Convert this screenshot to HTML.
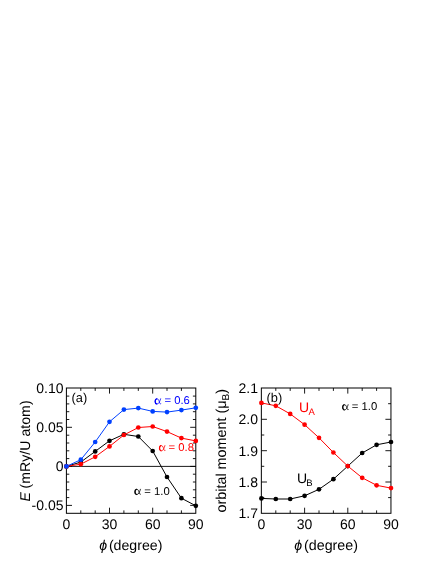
<!DOCTYPE html>
<html><head><meta charset="utf-8"><title>figure</title>
<style>
html,body{margin:0;padding:0;background:#fff;}
body{width:436px;height:564px;position:relative;overflow:hidden;font-family:"Liberation Sans",sans-serif;}
</style></head><body>
<svg width="436" height="564" viewBox="0 0 436 564" style="position:absolute;left:0;top:0;will-change:transform" font-family="Liberation Sans, sans-serif" text-rendering="geometricPrecision">
<line x1="66.4" x2="195.8" y1="466.4" y2="466.4" stroke="#000" stroke-width="0.9"/>
<rect x="66.4" y="388.0" width="129.4" height="125.3" fill="none" stroke="#000" stroke-width="1"/>
<path d="M80.8 513.3v-2.9M80.8 388.0v2.9" stroke="#000" stroke-width="0.9"/>
<path d="M95.2 513.3v-2.9M95.2 388.0v2.9" stroke="#000" stroke-width="0.9"/>
<path d="M109.5 513.3v-5.6M109.5 388.0v5.6" stroke="#000" stroke-width="0.9"/>
<path d="M123.9 513.3v-2.9M123.9 388.0v2.9" stroke="#000" stroke-width="0.9"/>
<path d="M138.3 513.3v-2.9M138.3 388.0v2.9" stroke="#000" stroke-width="0.9"/>
<path d="M152.7 513.3v-5.6M152.7 388.0v5.6" stroke="#000" stroke-width="0.9"/>
<path d="M167.0 513.3v-2.9M167.0 388.0v2.9" stroke="#000" stroke-width="0.9"/>
<path d="M181.4 513.3v-2.9M181.4 388.0v2.9" stroke="#000" stroke-width="0.9"/>
<path d="M66.4 505.4h5.6M195.8 505.4h-5.6" stroke="#000" stroke-width="0.9"/>
<path d="M66.4 497.6h2.9M195.8 497.6h-2.9" stroke="#000" stroke-width="0.9"/>
<path d="M66.4 489.8h2.9M195.8 489.8h-2.9" stroke="#000" stroke-width="0.9"/>
<path d="M66.4 482.0h2.9M195.8 482.0h-2.9" stroke="#000" stroke-width="0.9"/>
<path d="M66.4 474.2h2.9M195.8 474.2h-2.9" stroke="#000" stroke-width="0.9"/>
<path d="M66.4 466.4h5.6M195.8 466.4h-5.6" stroke="#000" stroke-width="0.9"/>
<path d="M66.4 458.6h2.9M195.8 458.6h-2.9" stroke="#000" stroke-width="0.9"/>
<path d="M66.4 450.8h2.9M195.8 450.8h-2.9" stroke="#000" stroke-width="0.9"/>
<path d="M66.4 443.0h2.9M195.8 443.0h-2.9" stroke="#000" stroke-width="0.9"/>
<path d="M66.4 435.2h2.9M195.8 435.2h-2.9" stroke="#000" stroke-width="0.9"/>
<path d="M66.4 427.3h5.6M195.8 427.3h-5.6" stroke="#000" stroke-width="0.9"/>
<path d="M66.4 419.5h2.9M195.8 419.5h-2.9" stroke="#000" stroke-width="0.9"/>
<path d="M66.4 411.7h2.9M195.8 411.7h-2.9" stroke="#000" stroke-width="0.9"/>
<path d="M66.4 403.9h2.9M195.8 403.9h-2.9" stroke="#000" stroke-width="0.9"/>
<path d="M66.4 396.1h2.9M195.8 396.1h-2.9" stroke="#000" stroke-width="0.9"/>
<polyline points="66.4,466.4 80.8,462.1 95.2,451.4 109.5,440.8 123.9,434.3 138.3,436.5 152.7,451.0 167.0,477.0 181.4,498.2 195.8,505.8" fill="none" stroke="#000" stroke-width="1"/>
<circle cx="66.4" cy="466.4" r="2.35" fill="#000"/>
<circle cx="80.8" cy="462.1" r="2.35" fill="#000"/>
<circle cx="95.2" cy="451.4" r="2.35" fill="#000"/>
<circle cx="109.5" cy="440.8" r="2.35" fill="#000"/>
<circle cx="123.9" cy="434.3" r="2.35" fill="#000"/>
<circle cx="138.3" cy="436.5" r="2.35" fill="#000"/>
<circle cx="152.7" cy="451.0" r="2.35" fill="#000"/>
<circle cx="167.0" cy="477.0" r="2.35" fill="#000"/>
<circle cx="181.4" cy="498.2" r="2.35" fill="#000"/>
<circle cx="195.8" cy="505.8" r="2.35" fill="#000"/>
<polyline points="66.4,466.4 80.8,464.2 95.2,456.8 109.5,446.4 123.9,435.0 138.3,427.5 152.7,426.5 167.0,431.6 181.4,438.1 195.8,440.9" fill="none" stroke="#f00" stroke-width="1"/>
<circle cx="66.4" cy="466.4" r="2.35" fill="#f00"/>
<circle cx="80.8" cy="464.2" r="2.35" fill="#f00"/>
<circle cx="95.2" cy="456.8" r="2.35" fill="#f00"/>
<circle cx="109.5" cy="446.4" r="2.35" fill="#f00"/>
<circle cx="123.9" cy="435.0" r="2.35" fill="#f00"/>
<circle cx="138.3" cy="427.5" r="2.35" fill="#f00"/>
<circle cx="152.7" cy="426.5" r="2.35" fill="#f00"/>
<circle cx="167.0" cy="431.6" r="2.35" fill="#f00"/>
<circle cx="181.4" cy="438.1" r="2.35" fill="#f00"/>
<circle cx="195.8" cy="440.9" r="2.35" fill="#f00"/>
<polyline points="66.4,466.4 80.8,459.7 95.2,442.0 109.5,421.8 123.9,409.6 138.3,408.1 152.7,411.4 167.0,412.1 181.4,410.1 195.8,407.8" fill="none" stroke="#0040ff" stroke-width="1"/>
<circle cx="66.4" cy="466.4" r="2.35" fill="#0040ff"/>
<circle cx="80.8" cy="459.7" r="2.35" fill="#0040ff"/>
<circle cx="95.2" cy="442.0" r="2.35" fill="#0040ff"/>
<circle cx="109.5" cy="421.8" r="2.35" fill="#0040ff"/>
<circle cx="123.9" cy="409.6" r="2.35" fill="#0040ff"/>
<circle cx="138.3" cy="408.1" r="2.35" fill="#0040ff"/>
<circle cx="152.7" cy="411.4" r="2.35" fill="#0040ff"/>
<circle cx="167.0" cy="412.1" r="2.35" fill="#0040ff"/>
<circle cx="181.4" cy="410.1" r="2.35" fill="#0040ff"/>
<circle cx="195.8" cy="407.8" r="2.35" fill="#0040ff"/>
<text x="63.5" y="393.0" font-size="14" text-anchor="end">0.10</text>
<text x="63.5" y="432.0" font-size="14" text-anchor="end">0.05</text>
<text x="63.5" y="471.1" font-size="14" text-anchor="end">0</text>
<text x="63.5" y="510.1" font-size="14" text-anchor="end">-0.05</text>
<text x="66.4" y="529.4" font-size="14" text-anchor="middle">0</text>
<text x="109.5" y="529.4" font-size="14" text-anchor="middle">30</text>
<text x="152.7" y="529.4" font-size="14" text-anchor="middle">60</text>
<text x="195.8" y="529.4" font-size="14" text-anchor="middle">90</text>
<text x="99.2" y="549.5" font-size="14.15" font-style="italic">ϕ</text><text x="108.9" y="549.5" font-size="14.15">(degree)</text>
<text transform="translate(30.4,501.6) rotate(-90)" font-size="14.15" font-style="italic">E</text>
<text transform="translate(30.4,488.4) rotate(-90)" font-size="14.15">(mRy/U atom)</text>
<text x="71.5" y="402" font-size="12.8">(a)</text>
<g transform="translate(154.40,398.50) scale(0.93)" fill="none" stroke="#0000ff" stroke-linecap="round"><path d="M6.7 0.3C6.0 3.0 4.7 6.0 2.8 6.0C1.4 6.0 0.8 4.7 0.8 3.1C0.8 1.5 1.5 0.3 2.9 0.3C4.5 0.3 5.2 3.2 5.7 4.9C5.9 5.6 6.3 5.9 6.9 5.6" stroke-width="0.85"/><path d="M2.3 5.8C1.3 5.5 0.9 4.4 0.9 3.1C0.9 1.9 1.3 0.8 2.3 0.45" stroke-width="1.4"/></g>
<text x="161.30" y="404.3" font-size="11.3" fill="#0000ff" xml:space="preserve"> = 0.6</text>
<g transform="translate(158.70,445.30) scale(0.93)" fill="none" stroke="#f00" stroke-linecap="round"><path d="M6.7 0.3C6.0 3.0 4.7 6.0 2.8 6.0C1.4 6.0 0.8 4.7 0.8 3.1C0.8 1.5 1.5 0.3 2.9 0.3C4.5 0.3 5.2 3.2 5.7 4.9C5.9 5.6 6.3 5.9 6.9 5.6" stroke-width="0.85"/><path d="M2.3 5.8C1.3 5.5 0.9 4.4 0.9 3.1C0.9 1.9 1.3 0.8 2.3 0.45" stroke-width="1.4"/></g>
<text x="165.40" y="451.1" font-size="11.3" fill="#f00" xml:space="preserve"> = 0.8</text>
<g transform="translate(134.20,489.00) scale(0.93)" fill="none" stroke="#000" stroke-linecap="round"><path d="M6.7 0.3C6.0 3.0 4.7 6.0 2.8 6.0C1.4 6.0 0.8 4.7 0.8 3.1C0.8 1.5 1.5 0.3 2.9 0.3C4.5 0.3 5.2 3.2 5.7 4.9C5.9 5.6 6.3 5.9 6.9 5.6" stroke-width="0.85"/><path d="M2.3 5.8C1.3 5.5 0.9 4.4 0.9 3.1C0.9 1.9 1.3 0.8 2.3 0.45" stroke-width="1.4"/></g>
<text x="141.20" y="494.8" font-size="11.3" fill="#000" xml:space="preserve"> = 1.0</text>
<rect x="261.35" y="388.0" width="129.6" height="125.3" fill="none" stroke="#000" stroke-width="1"/>
<path d="M275.8 513.3v-2.9M275.8 388.0v2.9" stroke="#000" stroke-width="0.9"/>
<path d="M290.2 513.3v-2.9M290.2 388.0v2.9" stroke="#000" stroke-width="0.9"/>
<path d="M304.6 513.3v-5.6M304.6 388.0v5.6" stroke="#000" stroke-width="0.9"/>
<path d="M319.0 513.3v-2.9M319.0 388.0v2.9" stroke="#000" stroke-width="0.9"/>
<path d="M333.4 513.3v-2.9M333.4 388.0v2.9" stroke="#000" stroke-width="0.9"/>
<path d="M347.8 513.3v-5.6M347.8 388.0v5.6" stroke="#000" stroke-width="0.9"/>
<path d="M362.2 513.3v-2.9M362.2 388.0v2.9" stroke="#000" stroke-width="0.9"/>
<path d="M376.6 513.3v-2.9M376.6 388.0v2.9" stroke="#000" stroke-width="0.9"/>
<path d="M261.35 497.6h2.9M391.0 497.6h-2.9" stroke="#000" stroke-width="0.9"/>
<path d="M261.35 482.0h5.6M391.0 482.0h-5.6" stroke="#000" stroke-width="0.9"/>
<path d="M261.35 466.3h2.9M391.0 466.3h-2.9" stroke="#000" stroke-width="0.9"/>
<path d="M261.35 450.7h5.6M391.0 450.7h-5.6" stroke="#000" stroke-width="0.9"/>
<path d="M261.35 435.0h2.9M391.0 435.0h-2.9" stroke="#000" stroke-width="0.9"/>
<path d="M261.35 419.3h5.6M391.0 419.3h-5.6" stroke="#000" stroke-width="0.9"/>
<path d="M261.35 403.7h2.9M391.0 403.7h-2.9" stroke="#000" stroke-width="0.9"/>
<polyline points="261.4,498.4 275.8,499.0 290.2,499.0 304.6,495.8 319.0,489.3 333.4,479.2 347.8,466.1 362.2,453.0 376.6,444.8 391.0,442.0" fill="none" stroke="#000" stroke-width="1"/>
<circle cx="261.4" cy="498.4" r="2.35" fill="#000"/>
<circle cx="275.8" cy="499.0" r="2.35" fill="#000"/>
<circle cx="290.2" cy="499.0" r="2.35" fill="#000"/>
<circle cx="304.6" cy="495.8" r="2.35" fill="#000"/>
<circle cx="319.0" cy="489.3" r="2.35" fill="#000"/>
<circle cx="333.4" cy="479.2" r="2.35" fill="#000"/>
<circle cx="347.8" cy="466.1" r="2.35" fill="#000"/>
<circle cx="362.2" cy="453.0" r="2.35" fill="#000"/>
<circle cx="376.6" cy="444.8" r="2.35" fill="#000"/>
<circle cx="391.0" cy="442.0" r="2.35" fill="#000"/>
<polyline points="261.4,402.9 275.8,405.8 290.2,413.9 304.6,424.7 319.0,437.8 333.4,452.5 347.8,466.1 362.2,477.8 376.6,485.3 391.0,488.1" fill="none" stroke="#f00" stroke-width="1"/>
<circle cx="261.4" cy="402.9" r="2.35" fill="#f00"/>
<circle cx="275.8" cy="405.8" r="2.35" fill="#f00"/>
<circle cx="290.2" cy="413.9" r="2.35" fill="#f00"/>
<circle cx="304.6" cy="424.7" r="2.35" fill="#f00"/>
<circle cx="319.0" cy="437.8" r="2.35" fill="#f00"/>
<circle cx="333.4" cy="452.5" r="2.35" fill="#f00"/>
<circle cx="347.8" cy="466.1" r="2.35" fill="#f00"/>
<circle cx="362.2" cy="477.8" r="2.35" fill="#f00"/>
<circle cx="376.6" cy="485.3" r="2.35" fill="#f00"/>
<circle cx="391.0" cy="488.1" r="2.35" fill="#f00"/>
<text x="258" y="392.8" font-size="14" text-anchor="end">2.1</text>
<text x="258" y="424.1" font-size="14" text-anchor="end">2.0</text>
<text x="258" y="455.5" font-size="14" text-anchor="end">1.9</text>
<text x="258" y="486.8" font-size="14" text-anchor="end">1.8</text>
<text x="258" y="518.1" font-size="14" text-anchor="end">1.7</text>
<text x="261.4" y="529.4" font-size="14" text-anchor="middle">0</text>
<text x="304.6" y="529.4" font-size="14" text-anchor="middle">30</text>
<text x="347.8" y="529.4" font-size="14" text-anchor="middle">60</text>
<text x="391.0" y="529.4" font-size="14" text-anchor="middle">90</text>
<text x="294.2" y="549.5" font-size="14.15" font-style="italic">ϕ</text><text x="304.1" y="549.5" font-size="14.25">(degree)</text>
<text transform="translate(225.8,450.75) rotate(-90)" font-size="14.36" text-anchor="middle">orbital moment (μ<tspan font-size="10" dy="2.9">B</tspan><tspan dy="-2.9">)</tspan></text>
<text x="266.5" y="402" font-size="12.8">(b)</text>
<g transform="translate(341.90,404.40) scale(0.93)" fill="none" stroke="#000" stroke-linecap="round"><path d="M6.7 0.3C6.0 3.0 4.7 6.0 2.8 6.0C1.4 6.0 0.8 4.7 0.8 3.1C0.8 1.5 1.5 0.3 2.9 0.3C4.5 0.3 5.2 3.2 5.7 4.9C5.9 5.6 6.3 5.9 6.9 5.6" stroke-width="0.85"/><path d="M2.3 5.8C1.3 5.5 0.9 4.4 0.9 3.1C0.9 1.9 1.3 0.8 2.3 0.45" stroke-width="1.4"/></g>
<text x="348.60" y="410.2" font-size="11.3" fill="#000" xml:space="preserve"> = 1.0</text>
<text x="299" y="412" font-size="14" fill="#f00">U<tspan font-size="9.5" dy="3" dx="-0.6">A</tspan></text>
<text x="297" y="483" font-size="14">U<tspan font-size="9.5" dy="3" dx="-0.8">B</tspan></text>
</svg>
</body></html>
